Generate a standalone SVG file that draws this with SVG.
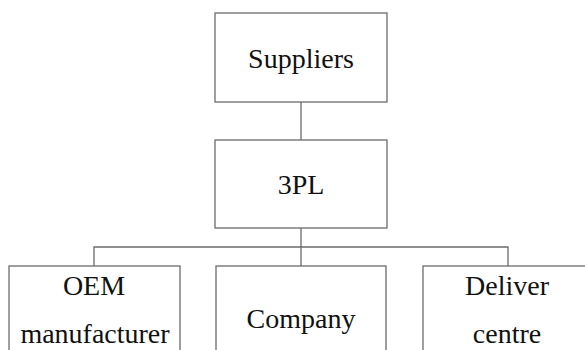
<svg xmlns="http://www.w3.org/2000/svg" width="585" height="350" viewBox="0 0 585 350">
<style>
.box{fill:#fff;stroke:#6b6b6b;stroke-width:1.3}
.ln{fill:none;stroke:#6b6b6b;stroke-width:1.3}
text{font-family:"Liberation Serif","Times New Roman",serif;font-size:28px;fill:#111;text-anchor:middle}
</style>
<rect width="585" height="350" fill="#fff"/>
<g id="connectors">
<line class="ln" x1="301" y1="102" x2="301" y2="140"/>
<line class="ln" x1="301" y1="228" x2="301" y2="266"/>
<polyline class="ln" points="94,266 94,247 508,247 508,266"/>
</g>
<g id="suppliers">
<rect class="box" x="215" y="13" width="172" height="89"/>
<text x="301" y="68">Suppliers</text>
</g>
<g id="tpl">
<rect class="box" x="215" y="140" width="172" height="88"/>
<text x="301" y="194">3PL</text>
</g>
<g id="oem">
<rect class="box" x="9" y="266" width="171" height="100"/>
<text x="94" y="295">OEM</text>
<text x="95" y="343">manufacturer</text>
</g>
<g id="company">
<rect class="box" x="216" y="266" width="170" height="100"/>
<text x="301" y="328">Company</text>
</g>
<g id="deliver">
<rect class="box" x="423" y="266" width="170" height="100"/>
<text x="507" y="295">Deliver</text>
<text x="507" y="343">centre</text>
</g>
</svg>
